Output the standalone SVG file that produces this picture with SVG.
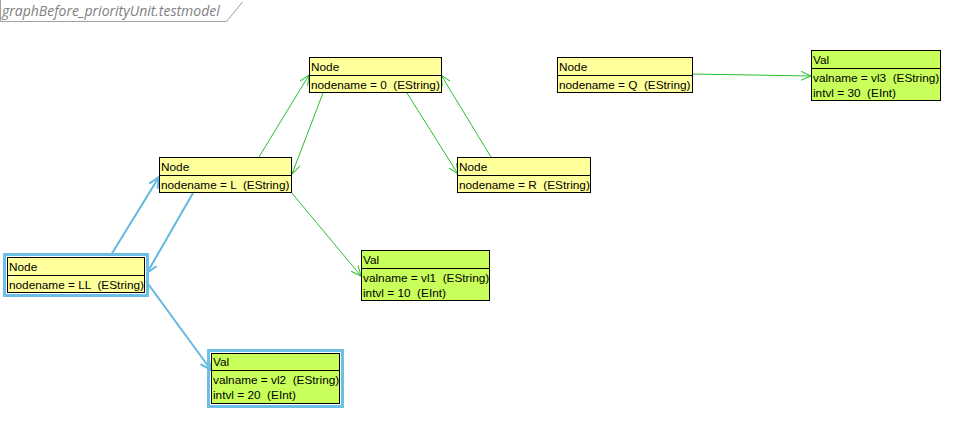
<svg xmlns="http://www.w3.org/2000/svg" width="964" height="425" viewBox="0 0 964 425">
  <style>
    .box { stroke: #000; stroke-width: 1; }
    .node { fill: #ffff9c; }
    .val { fill: #c8ff5a; }
    .sel { fill: none; stroke: #6cc0e6; stroke-width: 3; }
    .t { font-family: "Liberation Sans", Arial, sans-serif; font-size: 11.8px; fill: #000; white-space: pre; }
    .g { stroke: #2cbc2c; stroke-width: 1; fill: none; }
    .b { stroke: #62b8e2; stroke-width: 2; fill: none; }
    .title { font-family: "Open Sans", "Liberation Sans", sans-serif; font-style: italic; font-size: 14px; fill: #808080; }
  </style>
  <defs>
    <marker id="ag" markerUnits="userSpaceOnUse" markerWidth="12" markerHeight="12" refX="10" refY="5" orient="auto">
      <path d="M0,0.5 L10,5 L0,9.5" fill="none" stroke="#2cbc2c" stroke-width="1"/>
    </marker>
    <marker id="ab" markerUnits="userSpaceOnUse" markerWidth="14" markerHeight="14" refX="11" refY="6" orient="auto">
      <path d="M0,1 L11,6 L0,11" fill="none" stroke="#62b8e2" stroke-width="2"/>
    </marker>
  </defs>
  <rect width="964" height="425" fill="#fff"/>

  <!-- frame tab -->
  <g id="frame">
    <polyline points="0.5,0 0.5,21.5 226.5,21.5 242.5,2" fill="none" stroke="#a0a0a0" stroke-width="1"/>
    <text class="title" x="2" y="16">graphBefore_priorityUnit.testmodel</text>
  </g>

  <!-- connectors -->
  <g id="edges">
    <line class="g" x1="259" y1="157" x2="309" y2="75" marker-end="url(#ag)"/>
    <line class="g" x1="323" y1="93" x2="292" y2="174" marker-end="url(#ag)"/>
    <line class="g" x1="407" y1="93" x2="458" y2="174" marker-end="url(#ag)"/>
    <line class="g" x1="491" y1="157" x2="441" y2="75" marker-end="url(#ag)"/>
    <line class="g" x1="291" y1="192" x2="361" y2="276" marker-end="url(#ag)"/>
    <line class="g" x1="692" y1="74" x2="811" y2="76" marker-end="url(#ag)"/>
    <line class="b" x1="111" y1="255" x2="159" y2="177" marker-end="url(#ab)"/>
    <line class="b" x1="193" y1="193" x2="147" y2="273" marker-end="url(#ab)"/>
    <line class="b" x1="146" y1="281" x2="211" y2="370" marker-end="url(#ab)"/>
  </g>

  <g id="n0">
    <rect class="box node" x="309.5" y="57.5" width="132" height="35"/>
    <line class="box" x1="309.5" y1="75.5" x2="441.5" y2="75.5"/>
    <text class="t" x="311" y="71">Node</text>
    <text class="t" x="311" y="89">nodename = 0  (EString)</text>
  </g>

  <g id="nL">
    <rect class="box node" x="159.5" y="157.5" width="132" height="35"/>
    <line class="box" x1="159.5" y1="175.5" x2="291.5" y2="175.5"/>
    <text class="t" x="161" y="171">Node</text>
    <text class="t" x="161" y="189">nodename = L  (EString)</text>
  </g>

  <g id="nLL">
    <rect class="sel" x="4.5" y="254.5" width="143" height="41"/>
    <rect class="box node" x="7.5" y="257.5" width="137" height="35"/>
    <line class="box" x1="7.5" y1="275.5" x2="144.5" y2="275.5"/>
    <text class="t" x="9" y="271">Node</text>
    <text class="t" x="9" y="289">nodename = LL  (EString)</text>
  </g>

  <g id="nQ">
    <rect class="box node" x="557.5" y="57.5" width="135" height="35"/>
    <line class="box" x1="557.5" y1="75.5" x2="692.5" y2="75.5"/>
    <text class="t" x="559" y="71">Node</text>
    <text class="t" x="559" y="89">nodename = Q  (EString)</text>
  </g>

  <g id="nR">
    <rect class="box node" x="457.5" y="157.5" width="133" height="35"/>
    <line class="box" x1="457.5" y1="175.5" x2="590.5" y2="175.5"/>
    <text class="t" x="459" y="171">Node</text>
    <text class="t" x="459" y="189">nodename = R  (EString)</text>
  </g>

  <g id="v1">
    <rect class="box val" x="361.5" y="250.5" width="128" height="50"/>
    <line class="box" x1="361.5" y1="268.5" x2="489.5" y2="268.5"/>
    <text class="t" x="363" y="264">Val</text>
    <text class="t" x="363" y="282">valname = vl1  (EString)</text>
    <text class="t" x="363" y="297">intvl = 10  (EInt)</text>
  </g>

  <g id="v2">
    <rect class="sel" x="208.5" y="350.5" width="134" height="56"/>
    <rect class="box val" x="211.5" y="353.5" width="128" height="50"/>
    <line class="box" x1="211.5" y1="370.5" x2="339.5" y2="370.5"/>
    <text class="t" x="213" y="366">Val</text>
    <text class="t" x="213" y="384">valname = vl2  (EString)</text>
    <text class="t" x="213" y="399">intvl = 20  (EInt)</text>
  </g>

  <g id="v3">
    <rect class="box val" x="811.5" y="50.5" width="129" height="50"/>
    <line class="box" x1="811.5" y1="68.5" x2="940.5" y2="68.5"/>
    <text class="t" x="813" y="64">Val</text>
    <text class="t" x="813" y="82">valname = vl3  (EString)</text>
    <text class="t" x="813" y="97">intvl = 30  (EInt)</text>
  </g>
</svg>
